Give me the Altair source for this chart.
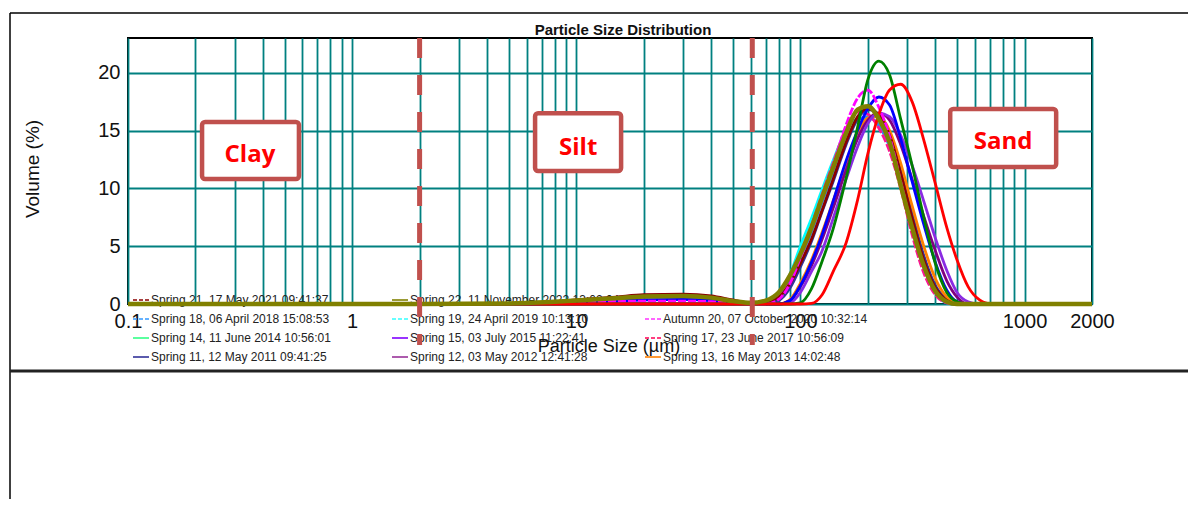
import altair as alt
import pandas as pd

# ---------------- data ----------------
sizes = [0.1, 2, 5, 8, 10, 15, 20, 30, 40, 50, 60, 70, 80, 90, 100, 112, 125, 140,
         160, 180, 200, 224, 250, 280, 315, 355, 400, 450, 500, 560, 630, 710, 2000]

cyan_vals = [0, 0, 0, 0, 0, 0, 0, 0, 0, 0,
             0, 0.05, 0.8, 2.6, 5.0, 7.4, 9.9, 12.4, 15.0, 16.0, 16.1, 15.5, 13.8, 10.7, 7.0, 3.5, 1.2, 0.2, 0, 0, 0, 0, 0]
dodger_vals = [0, 0, 0, 0.05, 0.1, 0.25, 0.35, 0.4, 0.3, 0.15,
               0.05, 0.1, 0.6, 2.0, 4.0, 6.2, 8.8, 11.4, 14.3, 15.9, 16.2, 15.4, 13.6, 10.5, 6.6, 3.2, 1.0, 0.1, 0, 0, 0, 0, 0]
pink_vals = [0, 0, 0, 0, 0, 0, 0, 0, 0, 0,
             0, 0.1, 0.8, 2.3, 4.4, 6.8, 9.5, 12.2, 15.2, 16.6, 16.4, 15.2, 13.2, 10.0, 6.0, 2.7, 0.8, 0.1, 0, 0, 0, 0, 0]
navy_vals = [0, 0, 0, 0, 0, 0, 0, 0, 0, 0,
             0, 0, 0.3, 1.4, 3.2, 5.4, 8.0, 10.6, 13.8, 16.0, 16.8, 16.4, 14.8, 11.6, 7.8, 4.2, 1.6, 0.4, 0, 0, 0, 0, 0]
orange_vals = [0, 0, 0, 0, 0, 0, 0, 0, 0, 0,
               0, 0, 0, 0.4, 1.8, 3.8, 6.2, 8.9, 12.2, 14.8, 16.1, 16.2, 15.0, 12.2, 8.5, 5.0, 2.2, 0.6, 0, 0, 0, 0, 0]
purple_vals = [0, 0, 0, 0, 0, 0, 0, 0, 0, 0,
               0, 0, 0, 0.3, 1.5, 3.3, 5.6, 8.3, 11.6, 14.3, 15.9, 16.5, 15.9, 13.8, 10.8, 7.6, 4.6, 2.0, 0.6, 0, 0, 0, 0]
violet_vals = [0, 0, 0, 0, 0, 0, 0, 0, 0, 0,
               0, 0, 0, 0.1, 1.0, 2.8, 4.6, 7.4, 10.8, 13.6, 15.6, 16.5, 16.2, 14.6, 12.0, 8.9, 5.7, 2.9, 1.0, 0.2, 0, 0, 0]
darkred_vals = [0, 0, 0.05, 0.2, 0.35, 0.6, 0.8, 0.85, 0.7, 0.35,
                0.1, 0.2, 0.6, 1.8, 3.5, 5.6, 8.1, 10.8, 14.0, 16.2, 16.9, 16.3, 14.6, 11.3, 7.4, 3.8, 1.4, 0.3, 0, 0, 0, 0, 0]
blue_vals = [0, 0, 0, 0.05, 0.15, 0.25, 0.35, 0.4, 0.3, 0.15,
             0.05, 0, 0, 0.3, 1.6, 3.6, 6.0, 8.9, 12.4, 15.0, 16.9, 17.9, 17.2, 14.3, 10.6, 6.9, 3.6, 1.2, 0.2, 0, 0, 0, 0]
magenta_vals = [0, 0, 0.05, 0.15, 0.2, 0.22, 0.25, 0.25, 0.2, 0.1,
                0, 0, 0.4, 1.8, 4.0, 6.6, 9.3, 12.0, 15.5, 17.8, 18.5, 17.0, 14.5, 10.6, 6.6, 3.1, 1.0, 0.2, 0, 0, 0, 0, 0]
green_vals = [0, 0, 0, 0, 0, 0, 0, 0, 0, 0,
              0, 0, 0, 0, 0.1, 1.3, 3.7, 6.5, 10.9, 15.3, 19.4, 21.0, 19.8, 16.0, 12.0, 7.5, 3.5, 1.0, 0.2, 0, 0, 0, 0]
red_vals = [0, 0, 0, 0, 0, 0, 0, 0, 0, 0,
            0, 0, 0, 0, 0, 0.05, 0.8, 2.8, 5.3, 9.0, 13.0, 16.4, 18.5, 19.0, 17.5, 14.2, 10.4, 6.6, 3.8, 1.5, 0.35, 0, 0]
olive_vals = [0, 0, 0.05, 0.2, 0.3, 0.5, 0.65, 0.7, 0.55, 0.25,
              0.1, 0.3, 1.0, 2.5, 4.3, 6.6, 9.2, 11.8, 14.8, 16.8, 17.1, 16.0, 14.0, 10.3, 6.6, 3.3, 1.1, 0.2, 0, 0, 0, 0, 0]

# drawing order (last on top)
series = [
    ("Spring 19", cyan_vals, "#00FFFF"),
    ("Spring 18", dodger_vals, "#1E90FF"),
    ("Spring 17", pink_vals, "#FF1493"),
    ("Spring 11", navy_vals, "#333399"),
    ("Spring 13", orange_vals, "#FF8000"),
    ("Spring 12", purple_vals, "#800080"),
    ("Spring 15", violet_vals, "#8A2BE2"),
    ("Spring 21", darkred_vals, "#8B0000"),
    ("Series B", blue_vals, "#0000FF"),
    ("Autumn 20", magenta_vals, "#FF00FF"),
    ("Series G", green_vals, "#008000"),
    ("Series R", red_vals, "#FF0000"),
    ("Spring 22", olive_vals, "#808000"),
]

legend_labels = [
    "Spring 21, 17 May 2021 09:41:37", "Spring 18, 06 April 2018 15:08:53",
    "Spring 14, 11 June 2014 10:56:01", "Spring 11, 12 May 2011 09:41:25",
    "Spring 22, 11 November 2022 13:02:04", "Spring 19, 24 April 2019 10:13:10",
    "Spring 15, 03 July 2015 11:22:41", "Spring 12, 03 May 2012 12:41:28",
    "Autumn 20, 07 October 2020 10:32:14", "Spring 17, 23 June 2017 10:56:09",
    "Spring 13, 16 May 2013 14:02:48",
]
legend_colors = ["#8B0000", "#3399FF", "#33FF88", "#333399",
                 "#808000", "#33FFFF", "#8000FF", "#993399",
                 "#FF33FF", "#FF0055", "#FF8000"]
legend_dashed = [True, True, False, False, False, True, False, False, True, True, False]
legend_slot = [(0, 0), (0, 1), (0, 2), (0, 3), (1, 0), (1, 1), (1, 2), (1, 3), (2, 1), (2, 2), (2, 3)]

x_grid_values = [0.1, 0.2, 0.3, 0.4, 0.5, 0.6, 0.7, 0.8, 0.9,
                 1, 2, 3, 4, 5, 6, 7, 8, 9,
                 10, 20, 30, 40, 50, 60, 70, 80, 90,
                 100, 200, 300, 400, 500, 600, 700, 800, 900,
                 1000, 2000]
x_label_texts = ["0.1", "1", "10", "100", "1000", "2000"]
y_tick_values = [0, 5, 10, 15, 20]

boundaries = [2, 61]
zone_labels = ["Clay", "Silt", "Sand"]
zone_x1 = [0.214, 6.55, 466]
zone_x2 = [0.579, 15.85, 1384]
zone_y1 = [15.74, 16.5, 16.86]
zone_y2 = [10.81, 11.5, 11.85]
zone_tx = [0.35, 10.2, 802]
zone_ty = [12.28, 12.88, 13.4]

# ---------------- layout / style ----------------
W, H = 964, 266
FONT = "Liberation Sans, Arial, sans-serif"
TEAL = "#008080"
BOXRED = "#C0504D"

xscale = alt.Scale(type="log", domain=[0.1, 2000], nice=False)
yscale = alt.Scale(domain=[0, 23], nice=False, zero=False)

label_list = "[" + ",".join("'" + t + "'" for t in x_label_texts) + "]"
x_axis = alt.Axis(values=x_grid_values, format="~g",
                  labelExpr=f"indexof({label_list}, datum.label) >= 0 ? datum.label : ''",
                  grid=True, gridColor=TEAL, gridWidth=1.8, gridOpacity=1,
                  ticks=False, domain=False, labelFont=FONT, labelFontSize=20,
                  labelColor="#111", labelPadding=7, labelOverlap=False,
                  labelFlush=False, title=None)
y_axis = alt.Axis(values=y_tick_values, grid=True, gridColor=TEAL, gridWidth=1.8,
                  gridOpacity=1, ticks=False, domain=False, labelFont=FONT,
                  labelFontSize=20, labelColor="#111", labelPadding=8,
                  labelOverlap=False, title=None)

layers = []

# curves (first, so the axes come from them)
for name, vals, colr in series:
    df = pd.DataFrame({"size": sizes, "vol": vals})
    kw = dict(color=colr, strokeWidth=2.8, interpolate="monotone")
    if name == "Spring 22":
        kw["strokeWidth"] = 4.5
    if name in ("Autumn 20", "Spring 17"):
        kw["strokeDash"] = [8, 2]
    layers.append(alt.Chart(df).mark_line(**kw).encode(
        x=alt.X("size:Q", scale=xscale, axis=x_axis),
        y=alt.Y("vol:Q", scale=yscale, axis=y_axis)))

# legend
col_x = [5, 264, 517]
row_y = [262, 281, 300, 319]
legend_layers = []
for lab, colr, dsh, (c, r) in zip(legend_labels, legend_colors, legend_dashed, legend_slot):
    one = pd.DataFrame({"t": [lab]})
    kw = dict(color=colr, strokeWidth=1.6)
    if dsh:
        kw["strokeDash"] = [4, 2]
    legend_layers.append(alt.Chart(one).mark_rule(**kw).encode(
        x=alt.value(col_x[c]), x2=alt.value(col_x[c] + 16), y=alt.value(row_y[r])))
    legend_layers.append(alt.Chart(one).mark_text(
        align="left", baseline="middle", font=FONT, fontSize=12, color="#222").encode(
        x=alt.value(col_x[c] + 18), y=alt.value(row_y[r]), text="t:N"))

# boundary rules
bdf = pd.DataFrame({"b": boundaries})
rule_layer = alt.Chart(bdf).mark_rule(color=BOXRED, strokeWidth=5, strokeDash=[20, 17]).encode(
    x=alt.X("b:Q", scale=xscale, axis=x_axis), y=alt.value(0), y2=alt.value(H + 41))

# zone boxes
zdf = pd.DataFrame({"label": zone_labels, "x1": zone_x1, "x2": zone_x2,
                    "y1": zone_y1, "y2": zone_y2, "tx": zone_tx, "ty": zone_ty})
box_layer = alt.Chart(zdf).mark_rect(fill="white", stroke=BOXRED, strokeWidth=4.5,
                                     cornerRadius=3).encode(
    x=alt.X("x1:Q", scale=xscale, axis=x_axis), x2="x2:Q",
    y=alt.Y("y1:Q", scale=yscale, axis=y_axis), y2="y2:Q")
boxtext_layer = alt.Chart(zdf).mark_text(font="Open Sans", fontWeight="bold", fontSize=24,
                                         color="#FF0000", baseline="alphabetic",
                                         align="center").encode(
    x=alt.X("tx:Q", scale=xscale, axis=x_axis), y=alt.Y("ty:Q", scale=yscale, axis=y_axis),
    text="label:N")

# titles
def text_layer(txt, x, y, **kw):
    return alt.Chart(pd.DataFrame({"t": [txt]})).mark_text(**kw).encode(
        x=alt.value(x), y=alt.value(y), text="t:N")

title_layers = [
    text_layer("Particle Size Distribution", 495, -3, font=FONT, fontSize=15,
               fontWeight="bold", color="#111", baseline="alphabetic", align="center"),
    text_layer("Volume (%)", -95, 131, font=FONT, fontSize=19, angle=270,
               color="#111", baseline="middle", align="center"),
    text_layer("Particle Size (µm)", 481, 314, font=FONT, fontSize=18,
               color="#111", baseline="alphabetic", align="center"),
]

# outer frame lines
one = pd.DataFrame({"t": [0]})
frame_layers = [
    alt.Chart(one).mark_rule(color="black", strokeWidth=1.5).encode(
        x=alt.value(-118), x2=alt.value(1062), y=alt.value(-25)),
    alt.Chart(one).mark_rule(color="black", strokeWidth=1.5).encode(
        x=alt.value(-118), y=alt.value(-25), y2=alt.value(470)),
    alt.Chart(one).mark_rule(color="#222", strokeWidth=3).encode(
        x=alt.value(-118), x2=alt.value(1062), y=alt.value(333)),
]

all_layers = legend_layers + layers + [rule_layer, box_layer, boxtext_layer] + title_layers + frame_layers

chart = alt.layer(*all_layers).properties(
    width=W, height=H,
    padding={"left": 120, "top": 30, "right": 96, "bottom": 195},
    autosize=alt.AutoSizeParams(type="none"),
).configure_view(stroke="black", strokeWidth=2)

chart.save("out.html", embed_options={"renderer": "svg", "actions": False})
